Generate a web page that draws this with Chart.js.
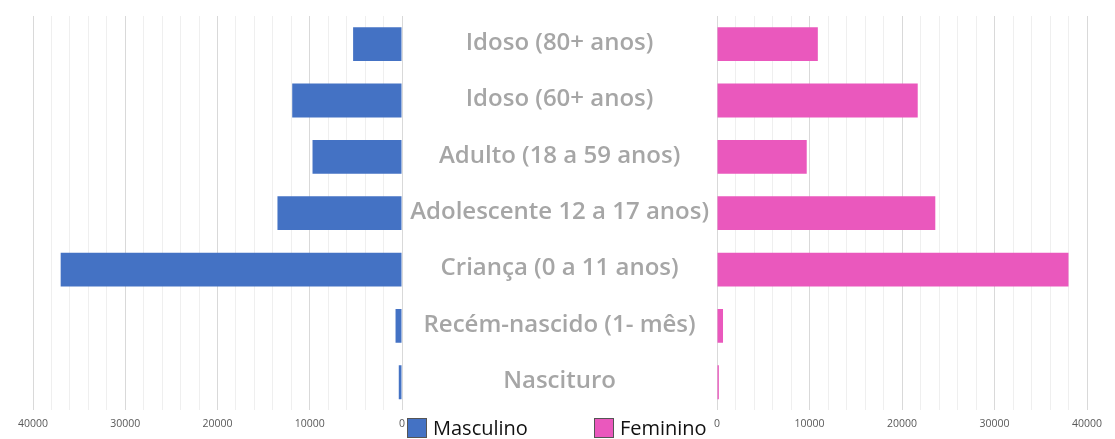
<!DOCTYPE html>
<html>
<head>
<meta charset="utf-8">
<script src="https://cdn.jsdelivr.net/npm/chart.js@4"></script>
<style>
  body { margin: 0; background: #fff; }
  #wrap { position: relative; width: 1115px; height: 439px; }
  #left { position: absolute; left: 0; top: 0; width: 420px; height: 439px; }
  #right { position: absolute; left: 402px; top: 0; width: 713px; height: 439px; }
  #legend {
    position: absolute; left: 407px; top: 417px;
    font-family: "Open Sans", sans-serif; font-size: 20px; color: #111;
    display: flex; align-items: center; line-height: 22px;
  }
  #legend span.box { display: inline-block; width: 20px; height: 20px; border: 1px solid #555; margin-right: 6px; box-sizing: border-box; }
  #legend span.item { display: inline-flex; align-items: center; }
  #legend span.item + span.item { margin-left: 66px; }
</style>
</head>
<body>
<div id="wrap">
  <div id="left"><canvas id="maleChart"></canvas></div>
  <div id="right"><canvas id="femaleChart"></canvas></div>
  <div id="legend">
    <span class="item"><span class="box" style="background:#4472C4"></span>Masculino</span>
    <span class="item"><span class="box" style="background:#EA58BD"></span>Feminino</span>
  </div>
</div>
<script>
// Data
const categories = [
  "Idoso (80+ anos)",
  "Idoso (60+ anos)",
  "Adulto (18 a 59 anos)",
  "Adolescente 12 a 17 anos)",
  "Criança (0 a 11 anos)",
  "Recém-nascido (1- mês)",
  "Nascituro",
];
const masculino = [5300, 11900, 9700, 13500, 37000, 700, 350];
const feminino = [10900, 21700, 9700, 23600, 38000, 650, 200];
const tickLabels = [0, 10000, 20000, 30000, 40000];

const blue = "#4472C4";
const pink = "#EA58BD";

function gridColor(ctx) {
  const v = ctx.tick ? ctx.tick.value : 0;
  return v % 10000 === 0 ? "#d9d9d9" : "#efefef";
}

function xAxis(reverse) {
  return {
    type: "linear",
    min: 0,
    max: 40000,
    reverse: reverse,
    border: { display: false },
    grid: { color: gridColor, drawTicks: false, lineWidth: 1 },
    ticks: {
      stepSize: 2000,
      autoSkip: false,
      maxRotation: 0,
      padding: 7,
      color: "#595959",
      font: { family: "'Open Sans', sans-serif", size: 10.5 },
      callback: (value) => (tickLabels.includes(value) ? String(value) : ""),
    },
  };
}

const common = {
  indexAxis: "y",
  responsive: true,
  maintainAspectRatio: false,
  animation: false,
  plugins: { legend: { display: false }, tooltip: { enabled: false } },
};

// Left side (masculino)
new Chart(document.getElementById("maleChart"), {
  type: "bar",
  data: {
    labels: categories,
    datasets: [
      {
        label: "Masculino",
        data: masculino,
        backgroundColor: blue,
        barPercentage: 1,
        categoryPercentage: 0.6,
      },
    ],
  },
  options: {
    ...common,
    layout: { padding: { left: 33, right: 18, top: 16, bottom: 2 } },
    scales: {
      x: xAxis(true),
      y: { display: false },
    },
  },
});

// Right side (feminino) with the category labels in the middle
new Chart(document.getElementById("femaleChart"), {
  type: "bar",
  data: {
    labels: categories,
    datasets: [
      {
        label: "Feminino",
        data: feminino,
        backgroundColor: pink,
        barPercentage: 1,
        categoryPercentage: 0.6,
      },
    ],
  },
  options: {
    ...common,
    layout: { padding: { left: 0, right: 28, top: 16, bottom: 2 } },
    scales: {
      x: xAxis(false),
      y: {
        position: "left",
        border: { display: false },
        grid: { display: false },
        afterFit: (scale) => {
          scale.width = 315;
        },
        ticks: {
          crossAlign: "center",
          padding: 0,
          labelOffset: -1,
          color: "#a6a6a6",
          font: { family: "'Open Sans', sans-serif", size: 24, weight: "600" },
        },
      },
    },
  },
});
</script>
</body>
</html>
